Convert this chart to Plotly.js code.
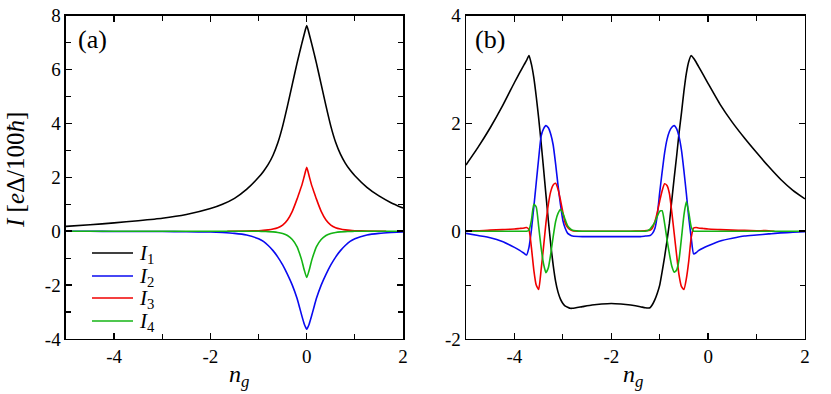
<!DOCTYPE html>
<html>
<head>
<meta charset="utf-8">
<script src="https://cdn.plot.ly/plotly-3.0.1.min.js"></script>
<style>
  html, body { margin: 0; padding: 0; background: #fff; }
  #chart { width: 831px; height: 394px; }
</style>
</head>
<body>
<div id="chart"></div>
<script>
// panel (a): gate charge n_g and the four currents
const ngA = [-5, -4.5, -4, -3.5, -3, -2.5, -2, -1.75, -1.5, -1.25, -1, -0.9, -0.8, -0.7, -0.6, -0.5, -0.4, -0.3, -0.2, -0.15, -0.1, -0.05, 0,
  0.05, 0.1, 0.15, 0.2, 0.3, 0.4, 0.5, 0.6, 0.7, 0.8, 0.9, 1, 1.25, 1.5, 1.75, 2];
const I1a = [0.18, 0.24, 0.31, 0.39, 0.48, 0.62, 0.84, 1.0, 1.22, 1.55, 2.0, 2.22, 2.48, 2.82, 3.28, 3.9, 4.65, 5.45, 6.25, 6.62, 6.98, 7.33, 7.63,
  7.33, 6.98, 6.62, 6.25, 5.45, 4.65, 3.9, 3.3, 2.86, 2.53, 2.27, 2.06, 1.63, 1.31, 1.06, 0.86];
const I2a = [0, 0, -0.01, -0.01, -0.01, -0.02, -0.03, -0.05, -0.08, -0.14, -0.28, -0.38, -0.53, -0.72, -0.96, -1.25, -1.6, -2.0, -2.5, -2.82, -3.15, -3.45, -3.64,
  -3.45, -3.15, -2.82, -2.5, -2.0, -1.6, -1.25, -0.96, -0.72, -0.53, -0.38, -0.28, -0.14, -0.08, -0.05, -0.03];
const ngA3 = [-1.65, -1.25, -1, -0.9, -0.8, -0.7, -0.6, -0.5, -0.4, -0.3, -0.2, -0.15, -0.1, -0.05, 0,
  0.05, 0.1, 0.15, 0.2, 0.3, 0.4, 0.5, 0.6, 0.7, 0.8, 0.9, 1, 1.25, 1.65];
const I3a = [0, 0.01, 0.02, 0.03, 0.05, 0.08, 0.13, 0.23, 0.42, 0.74, 1.2, 1.46, 1.72, 2.05, 2.37,
  2.05, 1.72, 1.46, 1.2, 0.74, 0.42, 0.23, 0.13, 0.08, 0.05, 0.03, 0.02, 0.01, 0];
const I4a = [0, 0, 0, 0, 0, 0, 0, 0, 0, 0, 0, -0.01, -0.015, -0.025, -0.045, -0.085, -0.16, -0.31, -0.58, -0.82, -1.1, -1.45, -1.72,
  -1.45, -1.1, -0.82, -0.58, -0.31, -0.16, -0.085, -0.045, -0.025, -0.015, -0.01, 0, 0, 0, 0, 0];

// panel (b)
const ngB = [-5, -4.75, -4.5, -4.25, -4, -3.9, -3.8, -3.75, -3.7, -3.65, -3.6, -3.55, -3.5, -3.45, -3.4, -3.35, -3.3, -3.25, -3.2, -3.15,
  -3.1, -3.05, -3, -2.95, -2.9, -2.85, -2.8, -2.6, -2.4, -2.2, -2, -1.8, -1.6, -1.4, -1.3, -1.2, -1.15, -1.1, -1.05, -1,
  -0.95, -0.9, -0.85, -0.8, -0.75, -0.7, -0.65, -0.6, -0.55, -0.5, -0.45, -0.4, -0.35, -0.3, -0.25, -0.2, -0.1, 0, 0.25, 0.5,
  0.75, 1, 1.25, 1.5, 1.75, 2];
const I1b = [1.23, 1.56, 1.92, 2.32, 2.76, 2.93, 3.09, 3.17, 3.26, 3.1, 2.85, 2.5, 2.1, 1.65, 1.17, 0.68, 0.2, -0.25, -0.63, -0.93,
  -1.13, -1.26, -1.34, -1.39, -1.41, -1.43, -1.43, -1.4, -1.37, -1.35, -1.34, -1.35, -1.37, -1.4, -1.42, -1.42, -1.36, -1.27, -1.15, -1.0,
  -0.75, -0.48, -0.18, 0.15, 0.58, 1.0, 1.4, 1.83, 2.2, 2.6, 2.93, 3.15, 3.26, 3.21, 3.14, 3.06, 2.9, 2.74, 2.35, 2.02,
  1.73, 1.46, 1.2, 0.96, 0.76, 0.6];
const I2b = [-0.04, -0.08, -0.12, -0.19, -0.3, -0.35, -0.41, -0.44, -0.3, 0.02, 0.45, 0.9, 1.35, 1.76, 1.9, 1.96, 1.92, 1.8, 1.6, 1.25,
  0.85, 0.5, 0.2, 0.05, -0.04, -0.07, -0.09, -0.1, -0.1, -0.1, -0.1, -0.1, -0.1, -0.1, -0.09, -0.08, -0.04, 0.05, 0.3, 0.72,
  1.1, 1.45, 1.7, 1.85, 1.93, 1.96, 1.9, 1.75, 1.5, 1.12, 0.7, 0.25, -0.12, -0.42, -0.4, -0.36, -0.31, -0.27, -0.18, -0.13,
  -0.09, -0.07, -0.05, -0.03, -0.02, -0.01];
const I3b = [0.01, 0.01, 0.02, 0.03, 0.04, 0.05, 0.06, 0.07, 0.03, -0.3, -0.72, -1.0, -1.08, -0.72, -0.3, 0.15, 0.5, 0.74, 0.86, 0.89,
  0.78, 0.58, 0.35, 0.15, 0.07, 0.03, 0.01, 0, 0, 0, 0, 0, 0, 0.005, 0.01, 0.02, 0.06, 0.18, 0.35, 0.56,
  0.75, 0.88, 0.85, 0.7, 0.35, -0.05, -0.45, -0.82, -1.03, -1.08, -0.88, -0.55, -0.12, 0.06, 0.07, 0.06, 0.05, 0.04, 0.03, 0.02,
  0.015, 0.01, 0.01];
const redEndB = [1.37, 0.0];
const I4b = [0, 0, 0, 0, 0, 0, 0, 0, 0.02, 0.2, 0.5, 0.45, 0.09, -0.3, -0.6, -0.77, -0.68, -0.42, -0.1, 0.18,
  0.33, 0.4, 0.33, 0.21, 0.1, 0.05, 0.02, 0, 0, 0, 0, 0, 0, 0, 0, 0.04, 0.1, 0.17, 0.28, 0.37,
  0.38, 0.15, -0.15, -0.42, -0.65, -0.76, -0.72, -0.52, -0.12, 0.3, 0.55, 0.35, 0.08, 0, 0, 0, 0, 0, 0, 0,
  0, 0, 0, 0, 0, 0];

const names = ['<i>I</i><sub>1</sub>', '<i>I</i><sub>2</sub>', '<i>I</i><sub>3</sub>', '<i>I</i><sub>4</sub>'];
const colors = ['#000000', '#0a0af0', '#f00000', '#14b414'];

const xTicks = [-4, -2, 0, 2];
const xTickText = ['-4', '-2', '0', '2'];
const yTicksA = [-4, -2, 0, 2, 4, 6, 8];
const yTickTextA = ['-4', '-2', '0', '2', '4', '6', '8'];
const yTicksB = [-2, 0, 2, 4];
const yTickTextB = ['-2', '0', '2', '4'];

const serif = 'Liberation Serif, Times New Roman, serif';
const W = 831, H = 394;

function line(x, y, i, xa, ya) {
  return {
    x: x, y: y, type: 'scatter', mode: 'lines',
    name: names[i], showlegend: false,
    xaxis: xa, yaxis: ya,
    line: { color: colors[i], width: 1.6, shape: 'spline', smoothing: 0.5 },
    hoverinfo: 'skip'
  };
}

const data = [
  line(ngA, I1a, 0, 'x', 'y'),
  line(ngA, I2a, 1, 'x', 'y'),
  line(ngA3, I3a, 2, 'x', 'y'),
  line(ngA, I4a, 3, 'x', 'y'),
  line(ngB, I1b, 0, 'x2', 'y2'),
  line(ngB, I2b, 1, 'x2', 'y2'),
  line(ngB.slice(0, I3b.length).concat([redEndB[0]]), I3b.concat([redEndB[1]]), 2, 'x2', 'y2'),
  line(ngB, I4b, 3, 'x2', 'y2')
];

function axis(extra) {
  return Object.assign({
    showgrid: false, zeroline: false,
    showline: true, linecolor: '#000', linewidth: 1.5, mirror: 'allticks',
    ticks: 'inside', ticklen: 6, tickwidth: 1.5, tickcolor: '#000',
    tickmode: 'array',
    tickfont: { family: serif, size: 19, color: '#000' },
    minor: { ticks: 'inside', ticklen: 5, tickwidth: 1.2, tickcolor: '#000', dtick: 1, showgrid: false }
  }, extra);
}

function txt(text, px, py, size, extra) {
  return Object.assign({
    text: text, xref: 'paper', yref: 'paper', x: px / W, y: 1 - py / H,
    xanchor: 'center', yanchor: 'middle', showarrow: false,
    font: { family: serif, size: size, color: '#000' }
  }, extra || {});
}

// hand-made legend inside panel (a)
const legendY = [253, 276, 298, 321];
const legendShapes = legendY.map((py, i) => ({
  type: 'line', xref: 'paper', yref: 'paper',
  x0: 92 / W, x1: 133 / W, y0: 1 - py / H, y1: 1 - py / H,
  line: { color: colors[i], width: 1.6 }
}));
const legendText = legendY.map((py, i) => txt(names[i], 137, py + 1, 21, { xanchor: 'left' }));

const layout = {
  width: W, height: H,
  margin: { l: 0, r: 0, t: 0, b: 0 },
  paper_bgcolor: '#fff', plot_bgcolor: '#fff',
  showlegend: false,
  xaxis: axis({ domain: [0.0794, 0.4850], range: [-5, 2], tickvals: xTicks, ticktext: xTickText, anchor: 'y' }),
  yaxis: axis({ domain: [0.1396, 0.9602], range: [-4, 8], tickvals: yTicksA, ticktext: yTickTextA, anchor: 'x' }),
  xaxis2: axis({ domain: [0.5608, 0.9687], range: [-5, 2], tickvals: xTicks, ticktext: xTickText, anchor: 'y2' }),
  yaxis2: axis({ domain: [0.1396, 0.9602], range: [-2, 4], tickvals: yTicksB, ticktext: yTickTextB, anchor: 'x2' }),
  shapes: legendShapes,
  annotations: [
    txt('(a)', 92, 40, 26),
    txt('(b)', 490, 40, 26),
    txt('<i>n</i><sub><i>g</i></sub>', 239, 376, 24),
    txt('<i>n</i><sub><i>g</i></sub>', 633, 376, 24),
    txt('<i>I</i> [<i>e</i>Δ/100<i>ħ</i>]', 15, 170, 25, { textangle: -90 })
  ].concat(legendText)
};

Plotly.newPlot('chart', data, layout, { staticPlot: true });
</script>
</body>
</html>
